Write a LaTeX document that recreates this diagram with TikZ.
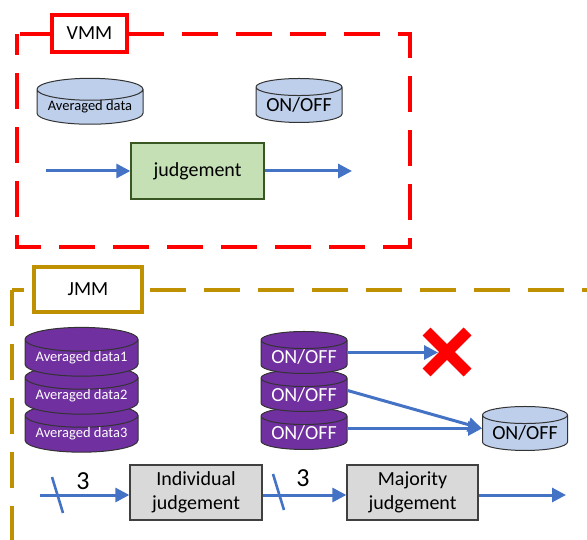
\documentclass[tikz,border=0pt]{standalone}
\usepackage{fontspec}
\setmainfont{Carlito}
\usetikzlibrary{arrows.meta,shapes.geometric,shapes.misc,positioning}

\definecolor{vmmred}{RGB}{255,0,0}
\definecolor{jmmgold}{RGB}{191,144,0}
\definecolor{flowblue}{RGB}{68,114,196}
\definecolor{dbblue}{RGB}{189,207,234}
\definecolor{dbpurple}{RGB}{112,48,160}
\definecolor{judgegreen}{RGB}{197,224,180}
\definecolor{judgeline}{RGB}{56,87,35}
\definecolor{boxgray}{RGB}{217,217,217}

\begin{document}
\begin{tikzpicture}[x=1pt, y=-1pt, node distance=38pt, on grid,
      font=\fontsize{20}{24}\selectfont,
      db/.style={cylinder, shape border rotate=90, aspect=0.26, draw=black!80,
        line width=1pt, inner sep=0pt, minimum height=44pt},
      dbsmall/.style={font=\fontsize{14.5}{17}\selectfont},
      lightdb/.style={db, fill=dbblue, text=black},
      purpledb/.style={db, fill=dbpurple, text=white, minimum height=42pt},
      judgebox/.style={draw=black!75, line width=1.3pt, fill=boxgray, align=center,
        inner sep=0pt, minimum width=132pt, minimum height=55pt},
      tag/.style={fill=white, line width=4pt, inner sep=0pt},
      flow/.style={draw=flowblue, line width=3pt, -{Triangle[length=14pt,width=14pt]}},
      tick/.style={draw=flowblue, line width=2.6pt},
      frame/.style={line width=4.5pt, dash pattern=on 36pt off 18pt}]
  \useasboundingbox (0,0) rectangle (587,540);

  % VMM
  \draw[frame, vmmred, dash phase=51pt] (17,34) -- (410,34) -- (410,247) -- (17,247) -- cycle;
  \node[tag, draw=vmmred, minimum width=75pt, minimum height=37pt] (vmm) at (89.5,33.5) {VMM};
  \node[lightdb, dbsmall, minimum width=106pt] (avg) at (90,107) {Averaged data};
  \node[lightdb, minimum width=86pt] (onoff) at (299,105) {ON/OFF};
  \node[judgebox, fill=judgegreen, draw=judgeline, minimum width=133pt, minimum height=56pt]
    (judge) at (197.5,171) {judgement};
  \coordinate (vin) at (46,171);
  \coordinate (vout) at (352,171);
  \draw[flow] (vin) -- (judge.west);
  \draw[flow] (judge.east) -- (vout);

  % JMM
  \draw[frame, jmmgold, line width=4pt] (12,290) -- (12,560);
  \draw[frame, jmmgold, line width=4pt, dash phase=24pt] (12,290) -- (600,290);
  \node[tag, draw=jmmgold, minimum width=108pt, minimum height=45pt] (jmm) at (88,289.5) {JMM};

  \node[purpledb, dbsmall, minimum width=113pt] (avg3) at (81.5,434) {Averaged data3};
  \node[purpledb, dbsmall, minimum width=113pt, above=of avg3] (avg2) {Averaged data2};
  \node[purpledb, dbsmall, minimum width=113pt, above=of avg2] (avg1) {Averaged data1};

  \node[purpledb, minimum width=86pt] (on3) at (304,433) {ON/OFF};
  \node[purpledb, minimum width=86pt, above=of on3] (on2) {ON/OFF};
  \node[purpledb, minimum width=86pt, above=of on2] (on1) {ON/OFF};

  \node[cross out, draw=vmmred, line width=11pt, minimum size=30pt] (ng) at (447,352) {};
  \node[lightdb, minimum width=85pt] (vote) at (525,433) {ON/OFF};

  \draw[flow, shorten >=9pt] (on1.shape center -| on1.east) -- (on1.shape center -| ng.center);
  \draw[flow] (on2.shape center -| on2.east) -- (vote.shape center -| vote.west);
  \draw[flow] (on3.shape center -| on3.east) -- (vote.shape center -| vote.west);

  \node[judgebox] (indiv) at (196,492.5) {Individual\\judgement};
  \node[judgebox, minimum width=131pt] (major) at (412.5,492.5) {Majority\\judgement};
  \coordinate (jin) at (40,495);
  \coordinate (jout) at (566,495);
  \draw[flow] (jin) -- (indiv.west |- jin);
  \draw[flow] (indiv.east |- jin) -- (major.west |- jin);
  \draw[flow] (major.east |- jin) -- (jout);

  % bus width marks
  \coordinate (bus1) at (57,495);
  \coordinate (bus2) at (278,492);
  \draw[tick] ([shift={(-5,-18)}]bus1) -- ([shift={(6,18)}]bus1);
  \draw[tick] ([shift={(-5,-18)}]bus2) -- ([shift={(6,18)}]bus2);
  \node[font=\fontsize{26}{30}\selectfont] (n1) at (83,481) {3};
  \node[font=\fontsize{26}{30}\selectfont] (n2) at (303,478) {3};
\end{tikzpicture}
\end{document}
